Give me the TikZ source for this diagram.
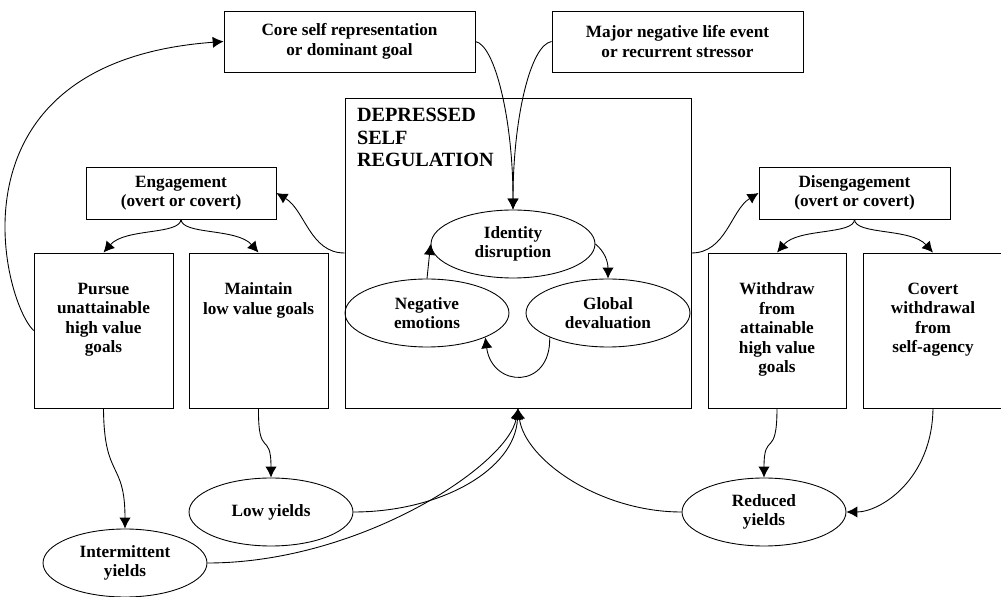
\documentclass[tikz,border=0pt]{standalone}
\usepackage{fontspec}
\setmainfont{Liberation Serif}
\usetikzlibrary{arrows.meta,shapes.geometric}

\begin{document}
\begin{tikzpicture}[
    x=0.02cm, y=-0.02cm,
    >={Latex[length=6.2pt,width=6.4pt]},
    line width=0.5pt,
    font=\bfseries\fontsize{9.8}{11.1}\selectfont,
    block/.style={
		rectangle,
		draw=black,
		align=center,
		inner sep=0pt
	},
	goal/.style={
		block,
		minimum width=2.78cm,
		minimum height=3.1cm
	},
	goaltext/.style={
		anchor=north,
		yshift=-0.6cm,
		align=center,
		inner sep=0pt
	},
	state/.style={
		ellipse,
		draw=black,
		align=center,
		inner sep=0pt,
		minimum width=3.28cm,
		minimum height=1.36cm
	}
  ]
  \useasboundingbox (0,0) rectangle (1001,597);

    % We start by placing the blocks
  \node [block, minimum width=5.02cm, minimum height=1.22cm] (core) at (349.5,41.5)
 {Core self representation\\or dominant goal};
  \node [block, minimum width=5.02cm, minimum height=1.22cm] (major) at (677.5,41.5)
 {Major negative life event\\or recurrent stressor};

  \node [block, minimum width=6.92cm, minimum height=6.2cm,
   label={[anchor=north west, xshift=0.24cm, yshift=-0.21cm, align=left, inner sep=0pt,
     font=\bfseries\fontsize{11.5}{12.8}\selectfont]north west:DEPRESSED\\SELF\\REGULATION}] (dsr) at (518,253) {};

  \node [block, minimum width=3.8cm, minimum height=1.04cm] (eng) at (181,193)
 {Engagement\\(overt or covert)};
  \node [block, minimum width=3.82cm, minimum height=1.04cm] (diseng) at (854.5,193)
 {Disengagement\\(overt or covert)};

  \node [goal, label={[goaltext]north:Pursue\\unattainable\\high value\\goals}] (pursue) at (103.5,330.5) {};
  \node [goal, label={[goaltext]north:Maintain\\low value goals}] (maintain) at (258.5,330.5) {};
  \node [goal, minimum width=2.76cm, label={[goaltext]north:Withdraw\\from\\attainable\\high value\\goals}] (withdraw) at (777,330.5) {};
  \node [goal, minimum width=2.8cm, label={[goaltext]north:Covert\\withdrawal\\from\\self-agency}] (covert) at (933,330.5) {};

    % the cycle inside the box
  \node [state] (ident) at (513,244) {Identity\\disruption};
  \node [state] (neg) at (427,313) {Negative\\emotions};
  \node [state] (glob) at (608,313) {Global\\devaluation};

    % the yields
  \node [state] (low) at (271,512) {Low yields};
  \node [state] (intermit) at (125,563) {Intermittent\\yields};
  \node [state] (reduced) at (764,512) {Reduced\\yields};

    % and the arrows
  \draw [->] (core.east) .. controls (495,45) and (513,120) .. (ident.north);
  \draw [->] (major.west) .. controls (530,45) and (513,120) .. (ident.north);
  \draw [->] (pursue.west) .. controls (2,300) and (-58,62) .. (core.west);

  \draw [->] (dsr.west) .. controls (310,253) and (305,210) .. (eng.east);
  \draw [->] (dsr.east) .. controls (726,253) and (731,210) .. (diseng.west);

  \draw [->] (eng.south) .. controls (180,235) and (125,228) .. (pursue.north);
  \draw [->] (eng.south) .. controls (182,235) and (237,228) .. (maintain.north);
  \draw [->] (diseng.south) .. controls (854,235) and (798,228) .. (withdraw.north);
  \draw [->] (diseng.south) .. controls (855,235) and (911,228) .. (covert.north);

  \draw [->] (pursue.south) .. controls (104,480) and (125,460) .. (intermit.north);
  \draw [->] (maintain.south) .. controls (258,460) and (271,430) .. (low.north);
  \draw [->] (withdraw.south) .. controls (777,460) and (764,430) .. (reduced.north);
  \draw [->] (covert.south) .. controls (932,480) and (880,512) .. (reduced.east);

  \draw [->] (low.east) .. controls (440,512) and (515,470) .. (dsr.south);
  \draw [->] (intermit.east) .. controls (360,563) and (508,465) .. (dsr.south);
  \draw [->] (reduced.west) .. controls (600,512) and (525,460) .. (dsr.south);

  \draw [->] (neg.north) -- (ident.west);
  \draw [->] (ident.east) .. controls (605,252) and (608,262) .. (glob.north);
  \draw [->] (glob.south west) .. controls (551,390) and (492,388) .. (neg.south east);

\end{tikzpicture}
\end{document}
